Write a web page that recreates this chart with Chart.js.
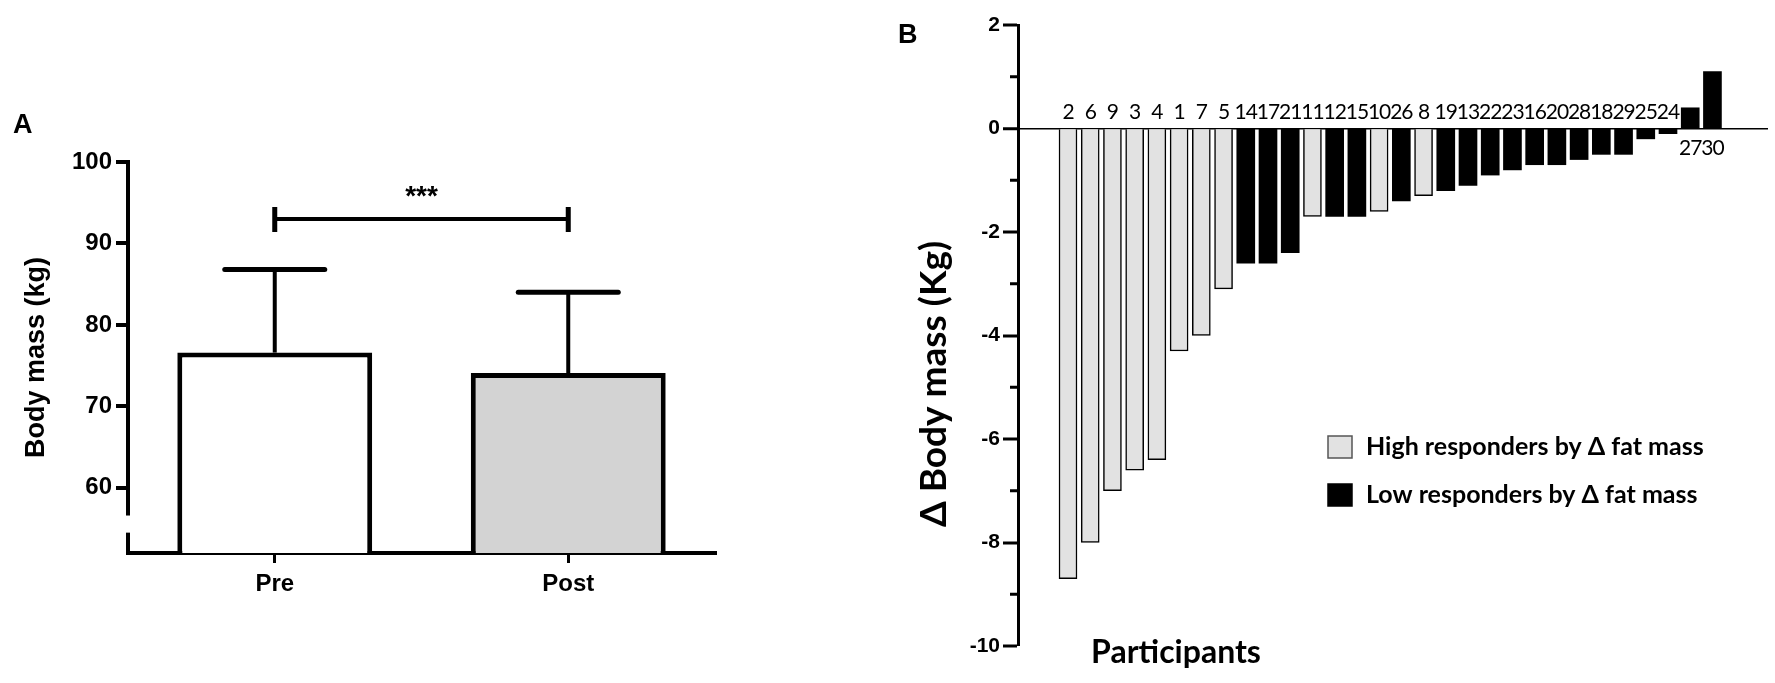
<!DOCTYPE html>
<html>
<head>
<meta charset="utf-8">
<script src="https://cdn.jsdelivr.net/npm/chart.js@4.4.1/dist/chart.umd.min.js"></script>
<style>
  body { margin: 0; background: #fff; }
  #wrap { position: relative; width: 1775px; height: 683px; overflow: hidden; }
  canvas { position: absolute; top: 0; }
  #chartA { left: 0; }
  #chartB { left: 780px; }
</style>
</head>
<body>
<div id="wrap">
  <canvas id="chartA" width="760" height="683"></canvas>
  <canvas id="chartB" width="995" height="683"></canvas>
</div>
<script>
// Panel A - group means
const groups = ['Pre', 'Post'];
const meanMass = [76.6, 74.1];
const sdMass = [10.2, 9.9];
const massTicks = [60, 70, 80, 90, 100];
const sigLevel = 93;

// Panel B - individual change, ordered as in the figure
const participants = [2, 6, 9, 3, 4, 1, 7, 5, 14, 17, 21, 11, 12, 15, 10, 26, 8, 19, 13, 22, 23, 16, 20, 28, 18, 29, 25, 24, 27, 30];
const massChange = [-8.7, -8.0, -7.0, -6.6, -6.4, -4.3, -4.0, -3.1, -2.6, -2.6, -2.4, -1.7, -1.7, -1.7, -1.6, -1.4, -1.3, -1.2, -1.1, -0.9, -0.8, -0.7, -0.7, -0.6, -0.5, -0.5, -0.2, -0.1, 0.4, 1.1];
const highResponders = [2, 6, 9, 3, 4, 1, 7, 5, 11, 10, 8];
const legendLabels = ['High responders by \u0394 fat mass', 'Low responders by \u0394 fat mass'];

const ARIAL = '"Liberation Sans", Arial, sans-serif';
const CALIBRI = 'Lato, "Open Sans", sans-serif';

// ---------- Panel A ----------
const panelAExtras = {
    id: 'panelAExtras',
    afterDatasetsDraw(chart) {
        const ctx = chart.ctx;
        const x = chart.scales.x;
        const y = chart.scales.y;
        const meta = chart.getDatasetMeta(0);
        ctx.save();
        ctx.strokeStyle = '#000';
        // error bars (upper SD only)
        meta.data.forEach((bar, i) => {
            const top = y.getPixelForValue(meanMass[i] + sdMass[i]);
            const base = y.getPixelForValue(meanMass[i]);
            ctx.lineWidth = 4;
            ctx.beginPath();
            ctx.moveTo(bar.x, base);
            ctx.lineTo(bar.x, top);
            ctx.stroke();
            ctx.lineWidth = 5;
            ctx.lineCap = 'round';
            ctx.beginPath();
            ctx.moveTo(bar.x - 50, top);
            ctx.lineTo(bar.x + 50, top);
            ctx.stroke();
            ctx.lineCap = 'butt';
        });
        // significance bar
        const sy = y.getPixelForValue(sigLevel);
        const x0 = x.getPixelForValue(0);
        const x1 = x.getPixelForValue(1);
        ctx.lineWidth = 4;
        ctx.beginPath();
        ctx.moveTo(x0, sy);
        ctx.lineTo(x1, sy);
        ctx.stroke();
        ctx.lineWidth = 5;
        ctx.beginPath();
        ctx.moveTo(x0, sy - 12);
        ctx.lineTo(x0, sy + 13);
        ctx.moveTo(x1, sy - 12);
        ctx.lineTo(x1, sy + 13);
        ctx.stroke();
        ctx.fillStyle = '#000';
        ctx.font = 'bold 28px ' + ARIAL;
        ctx.textAlign = 'center';
        ctx.textBaseline = 'alphabetic';
        ctx.fillText('***', (x0 + x1) / 2, sy - 14);
        ctx.restore();
    },
    afterDraw(chart) {
        const ctx = chart.ctx;
        const y = chart.scales.y;
        const area = chart.chartArea;
        ctx.save();
        // axis break
        ctx.fillStyle = '#fff';
        ctx.fillRect(area.left - 6, y.getPixelForValue(56.6), 12, y.getPixelForValue(54.5) - y.getPixelForValue(56.6));
        // panel letter
        ctx.fillStyle = '#000';
        ctx.font = 'bold 27px ' + ARIAL;
        ctx.textAlign = 'left';
        ctx.textBaseline = 'middle';
        ctx.fillText('A', 13, 126);
        ctx.restore();
    }
};

new Chart(document.getElementById('chartA'), {
    type: 'bar',
    data: {
        labels: groups,
        datasets: [{
            data: meanMass,
            backgroundColor: ['#ffffff', '#d3d3d3'],
            borderColor: '#000',
            borderWidth: 5,
            categoryPercentage: 1,
            barPercentage: 0.664
        }]
    },
    options: {
        responsive: false,
        animation: false,
        layout: { padding: { top: 162, right: 45, left: 0, bottom: 0 } },
        plugins: { legend: { display: false }, tooltip: { enabled: false } },
        scales: {
            x: {
                offset: true,
                afterFit(scale) { scale.height = 130; },
                grid: { offset: false, drawOnChartArea: false, drawTicks: true, tickLength: 10, lineWidth: 3, color: '#000' },
                border: { display: true, color: '#000', width: 4 },
                ticks: { color: '#000', padding: 7, font: { family: ARIAL, size: 24, weight: 'bold' } }
            },
            y: {
                min: 52,
                max: 100,
                afterFit(scale) { scale.width = 128; },
                afterBuildTicks(scale) { scale.ticks = massTicks.map(v => ({ value: v })); },
                grid: { drawOnChartArea: false, drawTicks: true, tickLength: 12, lineWidth: 4, color: '#000' },
                border: { display: true, color: '#000', width: 4 },
                ticks: { color: '#000', padding: 4, font: { family: ARIAL, size: 24, weight: 'bold' } },
                title: {
                    display: true,
                    text: 'Body mass (kg)',
                    color: '#000',
                    padding: { top: 20 },
                    font: { family: ARIAL, size: 27, weight: 'bold' }
                }
            }
        }
    },
    plugins: [panelAExtras]
});

// ---------- Panel B ----------
const highData = [];
const lowData = [];
participants.forEach((p, i) => {
    const point = { x: i, y: massChange[i] };
    if (highResponders.includes(p)) highData.push(point);
    else lowData.push(point);
});

const panelBExtras = {
    id: 'panelBExtras',
    afterDatasetsDraw(chart) {
        const ctx = chart.ctx;
        const y = chart.scales.y;
        const zero = y.getPixelForValue(0);
        const axisX = chart.chartArea.left;
        ctx.save();
        // minor ticks on odd values
        ctx.strokeStyle = '#000';
        ctx.lineWidth = 3;
        ctx.beginPath();
        for (let v = y.min + 1; v < y.max; v += 2) {
            const py = y.getPixelForValue(v);
            ctx.moveTo(axisX - 8, py);
            ctx.lineTo(axisX, py);
        }
        ctx.stroke();
        // participant numbers
        ctx.fillStyle = '#000';
        ctx.font = '21px ' + CALIBRI;
        ctx.letterSpacing = '-1px';
        ctx.textAlign = 'center';
        chart.data.datasets.forEach((ds, d) => {
            chart.getDatasetMeta(d).data.forEach((bar, j) => {
                const pt = ds.data[j];
                const id = participants[pt.x];
                if (pt.y < 0) {
                    ctx.textBaseline = 'alphabetic';
                    ctx.fillText(String(id), bar.x, zero - 10);
                } else {
                    ctx.textBaseline = 'top';
                    ctx.fillText(String(id), bar.x, zero + 9);
                }
            });
        });
        ctx.restore();
    },
    afterDraw(chart) {
        const ctx = chart.ctx;
        const ox = 780;
        ctx.save();
        ctx.fillStyle = '#000';
        // panel letter
        ctx.font = 'bold 27px ' + ARIAL;
        ctx.textAlign = 'left';
        ctx.textBaseline = 'middle';
        ctx.fillText('B', 898 - ox, 36);
        // x title
        ctx.font = 'bold 32px ' + CALIBRI;
        ctx.textAlign = 'center';
        ctx.fillText('Participants', 1176 - ox, 653);
        // y title
        ctx.save();
        ctx.translate(934 - ox, 384);
        ctx.rotate(-Math.PI / 2);
        ctx.font = 'bold 37px ' + CALIBRI;
        ctx.fillText('\u0394 Body mass (Kg)', 0, 0);
        ctx.restore();
        // legend
        const rows = [447, 495];
        chart.data.datasets.forEach((ds, d) => {
            const cy = rows[d];
            ctx.fillStyle = ds.backgroundColor;
            ctx.fillRect(1328 - ox, cy - 11, 24, 22);
            ctx.strokeStyle = d === 0 ? '#555' : '#000';
            ctx.lineWidth = 1.5;
            ctx.strokeRect(1328 - ox, cy - 11, 24, 22);
            ctx.fillStyle = '#000';
            ctx.font = 'bold 25px ' + CALIBRI;
            ctx.textAlign = 'left';
            ctx.textBaseline = 'middle';
            ctx.fillText(ds.label, 1366 - ox, cy);
        });
        ctx.restore();
    }
};

new Chart(document.getElementById('chartB'), {
    type: 'bar',
    data: {
        datasets: [
            { label: legendLabels[0], data: highData, backgroundColor: '#e2e2e2', borderColor: '#000', borderWidth: 1.5 },
            { label: legendLabels[1], data: lowData, backgroundColor: '#000000', borderColor: '#000', borderWidth: 0 }
        ]
    },
    options: {
        responsive: false,
        animation: false,
        layout: { padding: { top: 25, right: 7, left: 0, bottom: 37 } },
        datasets: { bar: { grouped: false, barThickness: 18 } },
        plugins: { legend: { display: false }, tooltip: { enabled: false } },
        scales: {
            x: {
                type: 'linear',
                min: -2.25,
                max: 31.5,
                bounds: 'data',
                offset: false,
                display: false
            },
            y: {
                min: -10,
                max: 2,
                afterFit(scale) { scale.width = 238; },
                ticks: { stepSize: 2, color: '#000', padding: 3, font: { family: ARIAL, size: 21, weight: 'bold' } },
                grid: {
                    drawOnChartArea: true,
                    drawTicks: true,
                    tickLength: 15,
                    tickWidth: 3,
                    tickColor: '#000',
                    color: c => (c.tick && c.tick.value === 0 ? '#000' : 'rgba(0,0,0,0)'),
                    lineWidth: c => (c.tick && c.tick.value === 0 ? 1.5 : 0)
                },
                border: { display: true, color: '#000', width: 3 }
            }
        }
    },
    plugins: [panelBExtras]
});
</script>
</body>
</html>
